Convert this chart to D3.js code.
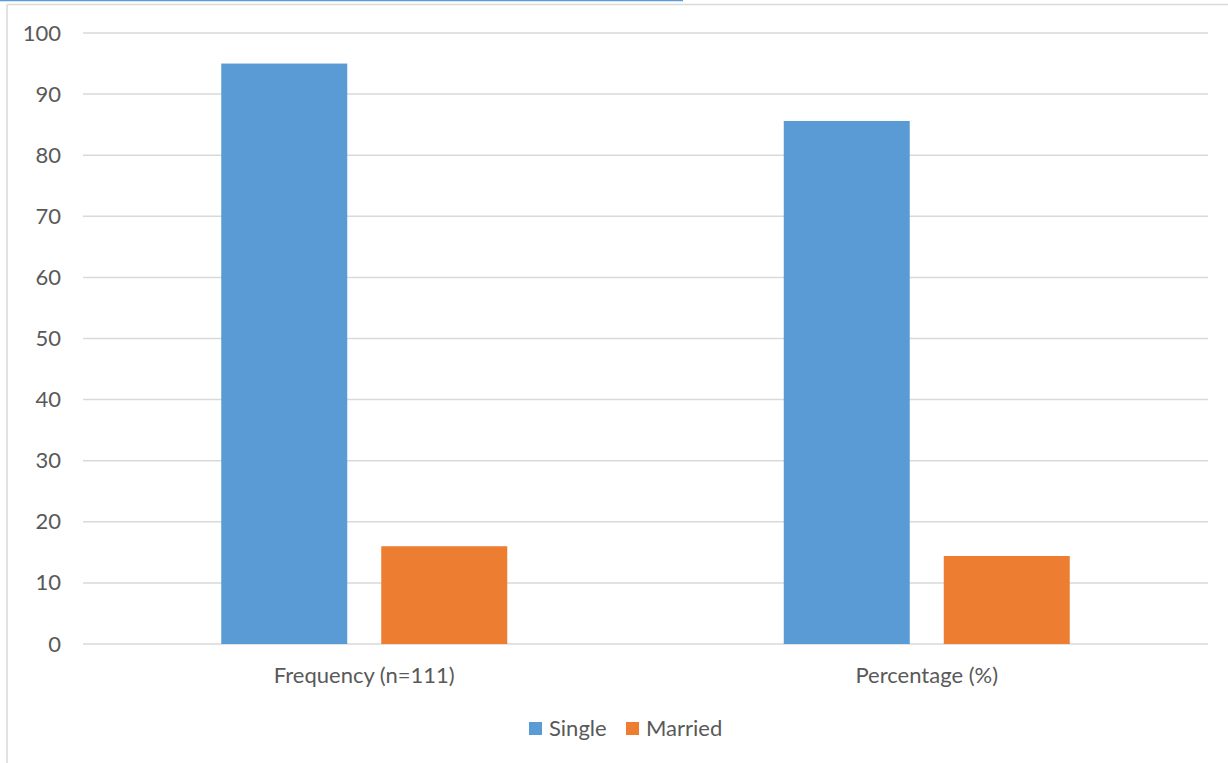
<!DOCTYPE html>
<html>
<head>
<meta charset="utf-8">
<script src="https://cdn.jsdelivr.net/npm/d3@7"></script>
<style>
  html, body { margin: 0; padding: 0; background: #ffffff; }
  svg { display: block; }
  text { font-family: Lato, "Open Sans", sans-serif; fill: #595959; }
</style>
</head>
<body>
<svg id="chart" width="1228" height="763"></svg>
<script>
// Marital status of respondents
const categories = ["Frequency (n=111)", "Percentage (%)"];
const seriesNames = ["Single", "Married"];
const singleValues = [95, 85.6];
const marriedValues = [16, 14.4];
const yTicks = [0, 10, 20, 30, 40, 50, 60, 70, 80, 90, 100];
const seriesColors = ["#5B9BD5", "#ED7D31"];

const W = 1228, H = 763;
const FONT = "Lato, 'Open Sans', sans-serif";
const FS = 22;
const svg = d3.select("#chart");

// page decoration: link underline and chart frame
svg.append("line").attr("x1", 0).attr("x2", 683).attr("y1", 0.5).attr("y2", 0.5)
  .attr("stroke", "#5B9BD5").attr("stroke-width", 1.5);
svg.append("line").attr("x1", 7).attr("x2", W).attr("y1", 4.5).attr("y2", 4.5)
  .attr("stroke", "#d9d9d9").attr("stroke-width", 1.5);
svg.append("line").attr("x1", 7).attr("x2", 7).attr("y1", 4.5).attr("y2", H)
  .attr("stroke", "#d9d9d9").attr("stroke-width", 1.5);

const plot = { left: 83, right: 1208, top: 33, bottom: 644 };

const y = d3.scaleLinear().domain([0, 100]).range([plot.bottom, plot.top]);
const x0 = d3.scaleBand().domain(categories).range([plot.left, plot.right]).padding(0);
const groupWidth = 286;
const x1 = d3.scaleBand().domain(seriesNames)
  .range([(x0.bandwidth() - groupWidth) / 2, (x0.bandwidth() + groupWidth) / 2])
  .paddingInner(0.2125).paddingOuter(0);

// gridlines
svg.append("g").selectAll("line").data(yTicks).join("line")
  .attr("x1", plot.left).attr("x2", plot.right)
  .attr("y1", d => y(d)).attr("y2", d => y(d))
  .attr("stroke", "#d9d9d9").attr("stroke-width", 1.5);

// y axis labels
const yAxis = d3.axisLeft(y).tickValues(yTicks).tickSize(0).tickPadding(0);
const gy = svg.append("g").attr("transform", `translate(61,0)`).call(yAxis);
gy.select(".domain").remove();
gy.selectAll("text").attr("font-size", FS).attr("fill", "#595959").style("font-family", FONT);

// bars
const rows = categories.map((c, i) => ({ category: c, values: [singleValues[i], marriedValues[i]] }));
const groups = svg.append("g").selectAll("g").data(rows).join("g")
  .attr("transform", d => `translate(${x0(d.category)},0)`);
groups.selectAll("rect")
  .data(d => d.values.map((v, j) => ({ series: seriesNames[j], value: v, color: seriesColors[j] })))
  .join("rect")
  .attr("x", d => x1(d.series))
  .attr("width", x1.bandwidth())
  .attr("y", d => y(d.value))
  .attr("height", d => y(0) - y(d.value))
  .attr("fill", d => d.color);

// category labels
const xAxis = d3.axisBottom(x0).tickSize(0).tickPadding(0);
const gx = svg.append("g").attr("transform", `translate(0,${plot.bottom + 39})`).call(xAxis);
gx.select(".domain").remove();
gx.selectAll("text").attr("font-size", FS).attr("fill", "#595959").attr("dy", 0).style("font-family", FONT);

// legend
const legend = svg.append("g").attr("transform", "translate(529,722)");
const legendX = [0, 97];
seriesNames.forEach((s, i) => {
  const g = legend.append("g").attr("transform", `translate(${legendX[i]},0)`);
  g.append("rect").attr("width", 13).attr("height", 13).attr("fill", seriesColors[i]);
  g.append("text").attr("x", 20).attr("y", 14).attr("font-size", FS).text(s);
});
</script>
</body>
</html>
